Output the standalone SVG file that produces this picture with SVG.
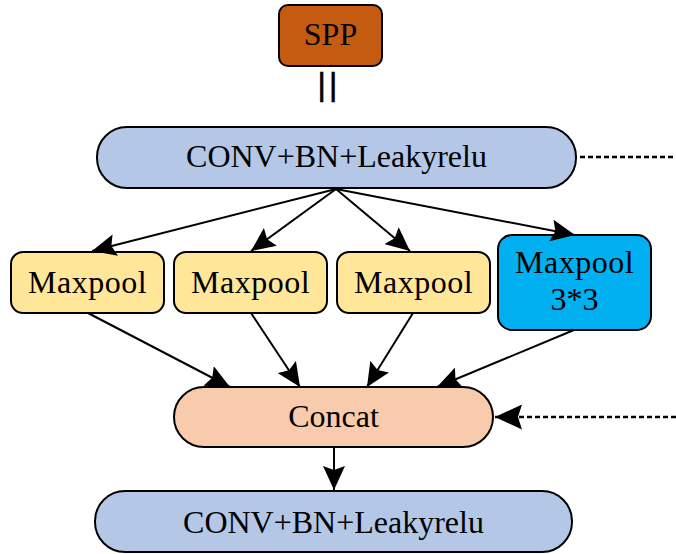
<svg xmlns="http://www.w3.org/2000/svg" width="676" height="554" viewBox="0 0 676 554">
  <style>
    .box { stroke: #000; stroke-width: 2; }
    .lbl { font-family: "Liberation Serif", "Times New Roman", serif; font-size: 32px; fill: #000; text-anchor: middle; }
    .link { stroke: #000; stroke-width: 2; fill: none; }
    .dash { stroke: #000; stroke-width: 2.5; fill: none; stroke-dasharray: 5 3; }
  </style>
  <defs>
    <marker id="head" markerUnits="userSpaceOnUse" viewBox="0 0 24 22" refX="24" refY="11" markerWidth="24" markerHeight="22" orient="auto">
      <path d="M0,0 L24,11 L0,22 L4,11 Z" fill="#000"/>
    </marker>
    <marker id="headBig" markerUnits="userSpaceOnUse" viewBox="0 0 27 25" refX="27" refY="12.5" markerWidth="27" markerHeight="25" orient="auto">
      <path d="M0,0 L27,12.5 L0,25 L4,12.5 Z" fill="#000"/>
    </marker>
  </defs>

  <g id="spp">
    <rect class="box" x="279" y="5" width="103" height="61" rx="9" fill="#C55A11"/>
    <text class="lbl" x="330.5" y="45">SPP</text>
    <text x="317.5" y="95" font-family="Liberation Sans, Arial, sans-serif" font-size="32" letter-spacing="3.3" stroke="#000" stroke-width="0.6">||</text>
  </g>

  <g id="conv-top">
    <rect class="box" x="97" y="127" width="479" height="61" rx="30" fill="#B4C7E7"/>
    <text class="lbl" x="336.5" y="167">CONV+BN+Leakyrelu</text>
  </g>

  <g id="maxpool-1">
    <rect class="box" x="11" y="252" width="153" height="61" rx="12" fill="#FFE699"/>
    <text class="lbl" x="87.5" y="293" letter-spacing="0.5">Maxpool</text>
  </g>
  <g id="maxpool-2">
    <rect class="box" x="174" y="252" width="153" height="61" rx="12" fill="#FFE699"/>
    <text class="lbl" x="250.5" y="293" letter-spacing="0.5">Maxpool</text>
  </g>
  <g id="maxpool-3">
    <rect class="box" x="337" y="252" width="153" height="61" rx="12" fill="#FFE699"/>
    <text class="lbl" x="413.5" y="293" letter-spacing="0.5">Maxpool</text>
  </g>
  <g id="maxpool-3x3">
    <rect class="box" x="498" y="235" width="153" height="95" rx="14" fill="#00B0F0"/>
    <text class="lbl" x="574.5" y="273" letter-spacing="0.5">Maxpool</text>
    <text class="lbl" x="574.5" y="310">3*3</text>
  </g>

  <g id="concat">
    <rect class="box" x="174" y="387" width="319" height="60" rx="30" fill="#F8CBAD"/>
    <text class="lbl" x="333.5" y="427">Concat</text>
  </g>

  <g id="conv-bottom">
    <rect class="box" x="95" y="491" width="477" height="61" rx="30" fill="#B4C7E7"/>
    <text class="lbl" x="333.5" y="533">CONV+BN+Leakyrelu</text>
  </g>

  <g id="connectors">
    <line class="link" x1="336" y1="189" x2="92" y2="251" marker-end="url(#head)"/>
    <line class="link" x1="336" y1="189" x2="251" y2="251" marker-end="url(#head)"/>
    <line class="link" x1="336" y1="189" x2="410" y2="251" marker-end="url(#head)"/>
    <line class="link" x1="336" y1="189" x2="575" y2="235" marker-end="url(#head)"/>

    <line class="link" x1="88" y1="313" x2="230" y2="387" marker-end="url(#head)"/>
    <line class="link" x1="251" y1="313" x2="300" y2="387" marker-end="url(#head)"/>
    <line class="link" x1="413" y1="313" x2="367" y2="387" marker-end="url(#head)"/>
    <line class="link" x1="574" y1="330" x2="437" y2="387" marker-end="url(#head)"/>

    <line class="link" x1="334" y1="447" x2="334" y2="490" marker-end="url(#head)"/>

    <line class="dash" x1="580" y1="157" x2="676" y2="157"/>
    <line class="dash" x1="676" y1="417" x2="495" y2="417" marker-end="url(#headBig)"/>
  </g>
</svg>
